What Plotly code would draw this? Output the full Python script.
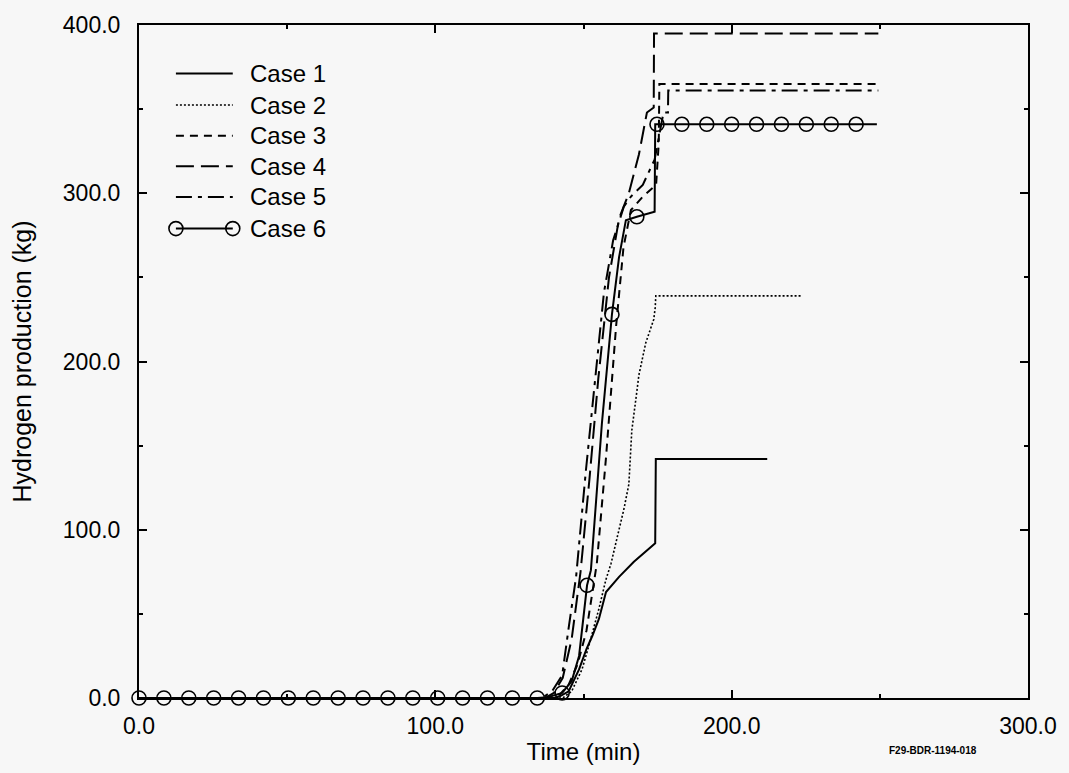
import plotly.graph_objects as go

# ---------------- data ----------------
case1_t = [0, 140, 142, 145, 148.5, 151, 153, 155.2, 157.6, 162, 167, 171, 174.2, 174.4, 212]
case1_kg = [0, 0, 1, 4, 17, 29, 37, 47, 63, 72, 81, 87, 92, 142, 142]

case2_t = [0, 143, 146, 149.5, 151.8, 155.2, 157.5, 159.3, 160.9, 163.6, 165.3, 166.3, 167.7,
           168.7, 171, 173.7, 174.2, 174.4, 223.6]
case2_kg = [0, 0, 4, 17, 31, 53, 70, 80, 92, 112, 127, 159, 178, 192, 211, 225, 232, 239, 239]

case3_t = [0, 139, 142, 145, 148, 151, 154.5, 157.6, 161, 163.5, 166, 170, 174.5, 175.4, 175.6, 249.5]
case3_kg = [0, 0, 2, 8, 20, 40, 80, 143, 221, 268, 290, 298, 305, 330, 365, 365]

case4_t = [0, 137, 140, 143, 146, 149, 152, 155, 158.6, 162, 165.3, 168.7, 171.4, 173.7, 173.8, 249.5]
case4_kg = [0, 0, 3, 12, 35, 75, 130, 190, 250, 285, 300, 323, 348, 351, 395, 395]

case5_t = [0, 136, 139.4, 142.8, 145.1, 147.5, 150.8, 153.5, 156.9, 160, 163.6, 166, 170, 174, 177,
           178.5, 178.6, 249.5]
case5_kg = [0, 0, 4, 13.5, 43, 72, 135, 182, 241, 272, 292, 298, 305, 320, 348, 348, 361, 361]

case6_t = [0, 134.4, 138, 142.8, 146, 148.5, 151.2, 152.5, 156.2, 159.6, 162, 164.3, 168, 174,
           174.2, 249]
case6_kg = [0, 0, 0.5, 3, 10, 25, 67, 76, 163, 228, 262, 284, 286, 289, 341, 341]

case6_mark_t = [0, 8.4, 16.8, 25.2, 33.6, 42, 50.4, 58.8, 67.2, 75.6, 84, 92.4, 100.8, 109.2, 117.6,
                126, 134.4, 142.8, 151.2, 159.6, 168, 174.8, 183.2, 191.6, 200, 208.4, 216.8,
                225.2, 233.6, 242]
case6_mark_kg = [0, 0, 0, 0, 0, 0, 0, 0, 0, 0, 0, 0, 0, 0, 0,
                 0, 0, 3, 67, 228, 286, 341, 341, 341, 341, 341, 341,
                 341, 341, 341]

x_ticks = [0, 100, 200, 300]
y_ticks = [0, 100, 200, 300, 400]
legend_names = ["Case 1", "Case 2", "Case 3", "Case 4", "Case 5", "Case 6"]

# ---------------- styles ----------------
FONT = "Liberation Sans, Arial, Helvetica, sans-serif"
BG = "#f7f7f7"
dashes = ["solid", "2px,2px", "8px,6px", "18px,7px", "16px,6px,4px,6px", "solid"]
widths = [2, 1.6, 2, 2, 2, 2]

series = [(case1_t, case1_kg), (case2_t, case2_kg), (case3_t, case3_kg),
          (case4_t, case4_kg), (case5_t, case5_kg), (case6_t, case6_kg)]

fig = go.Figure()
for (t, kg), name, d, w in zip(series, legend_names, dashes, widths):
    fig.add_trace(go.Scatter(x=t, y=kg, mode="lines", name=name, showlegend=False,
                             line=dict(color="black", width=w, dash=d)))

fig.add_trace(go.Scatter(x=case6_mark_t, y=case6_mark_kg, mode="markers", showlegend=False,
                         cliponaxis=False,
                         marker=dict(symbol="circle-open", size=14, color="black",
                                     line=dict(width=1.6, color="black"))))

# ---------------- custom legend (paper coordinates) ----------------
L, R, T, B = 139, 1030, 19, 700
W, H = R - L, B - T
def px(x):
    return (x - L) / W
def py(y):
    return (B - y) / H

rows = [68, 100, 131, 162, 193, 225]
shapes = []
annotations = []
for name, d, w, ry in zip(legend_names, dashes, widths, rows):
    shapes.append(dict(type="line", xref="paper", yref="paper",
                       x0=px(176), x1=px(233), y0=py(ry), y1=py(ry),
                       line=dict(color="black", width=w, dash=d)))
    annotations.append(dict(xref="paper", yref="paper", x=px(248), y=py(ry),
                            text=name, showarrow=False, xanchor="left", yanchor="middle",
                            font=dict(family=FONT, size=24, color="black")))
for cx in (176, 233):
    shapes.append(dict(type="circle", xref="paper", yref="paper",
                       xsizemode="pixel", ysizemode="pixel",
                       xanchor=px(cx), yanchor=py(rows[5]),
                       x0=-7, x1=7, y0=-7, y1=7,
                       line=dict(color="black", width=1.6)))

annotations.append(dict(xref="paper", yref="paper", x=px(935), y=py(753),
                        text="<b>F29-BDR-1194-018</b>", showarrow=False,
                        xanchor="center", yanchor="middle",
                        font=dict(family=FONT, size=10, color="black")))

axis_common = dict(showline=True, linecolor="black", linewidth=2, mirror="ticks",
                   ticks="inside", ticklen=8, tickwidth=2, tickcolor="black",
                   showgrid=False, zeroline=False, tickformat=".1f",
                   tickfont=dict(family=FONT, size=23, color="black"),
                   minor=dict(ticks="inside", ticklen=4, tickwidth=1.5, tickcolor="black",
                              dtick=50, showgrid=False))

fig.update_layout(
    width=1069, height=773,
    margin=dict(l=L, r=1069 - R, t=T, b=773 - B),
    paper_bgcolor=BG, plot_bgcolor=BG,
    font=dict(family=FONT, color="black"),
    shapes=shapes, annotations=annotations,
    xaxis=dict(range=[0, 300], tickvals=x_ticks, ticklabelstandoff=6,
               title=dict(text="Time (min)", font=dict(family=FONT, size=24, color="black"),
                          standoff=6),
               **axis_common),
    yaxis=dict(range=[0, 400], tickvals=y_ticks, ticklabelstandoff=12,
               title=dict(text="Hydrogen production (kg)",
                          font=dict(family=FONT, size=25, color="black"), standoff=24),
               **axis_common),
)

fig.write_html("out.html")
